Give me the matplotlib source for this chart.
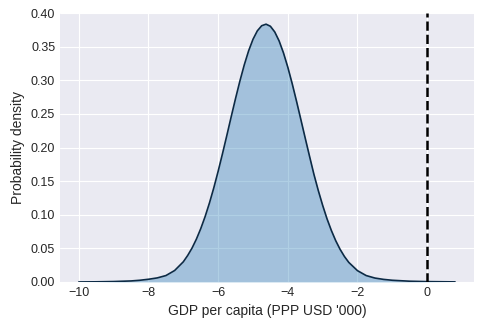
import numpy as np
import matplotlib
matplotlib.use("Agg")
import matplotlib.pyplot as plt

# density curve
gdp = [-10.0, -9.5, -9.0, -8.5, -8.25, -8.0, -7.75, -7.5, -7.25, -7.0,
       -6.875, -6.75, -6.625, -6.5, -6.375, -6.25, -6.125, -6.0, -5.875,
       -5.75, -5.625, -5.5, -5.375, -5.25, -5.125, -5.0, -4.875, -4.75,
       -4.625, -4.5, -4.375, -4.25, -4.125, -4.0, -3.875, -3.75, -3.625,
       -3.5, -3.375, -3.25, -3.125, -3.0, -2.875, -2.75, -2.625, -2.5,
       -2.375, -2.25, -2.0, -1.75, -1.5, -1.25, -1.0, -0.5, 0.0, 0.8]
density = [0.0000, 0.0002, 0.0006, 0.0015, 0.0025, 0.0040, 0.0060, 0.0095,
           0.0170, 0.0300, 0.0394, 0.0504, 0.0637, 0.0793, 0.0972, 0.1175,
           0.1401, 0.1648, 0.1910, 0.2182, 0.2460, 0.2732, 0.2992, 0.3231,
           0.3440, 0.3611, 0.3737, 0.3813, 0.3836, 0.3805, 0.3720, 0.3587,
           0.3409, 0.3195, 0.2952, 0.2689, 0.2415, 0.2139, 0.1867, 0.1600,
           0.1360, 0.1140, 0.0940, 0.0766, 0.0614, 0.0486, 0.0379, 0.0291,
           0.0168, 0.0095, 0.0058, 0.0038, 0.0025, 0.0011, 0.0005, 0.0001]
threshold = 0.0

plt.style.use("seaborn-v0_8-darkgrid")
plt.rcParams["font.family"] = ["Liberation Sans", "DejaVu Sans"]

fig = plt.figure(figsize=(4.84, 3.29), dpi=100)
ax = fig.add_axes([0.124, 0.143, 0.855, 0.817])

ax.fill_between(gdp, density, color="#1f77b4", alpha=0.35, lw=0)
ax.plot(gdp, density, color="#0c2a45", lw=1.2)
ax.axvline(threshold, color="black", ls="--", lw=1.8)

ax.set_ylim(0, 0.4)
ax.set_xticks([-10, -8, -6, -4, -2, 0])
ax.set_yticks(np.arange(0, 0.41, 0.05))
ax.yaxis.set_major_formatter(matplotlib.ticker.FormatStrFormatter("%.2f"))
ax.tick_params(labelsize=9, colors="#262626")
ax.set_xlabel("GDP per capita (PPP USD '000)", fontsize=10, color="#262626")
ax.set_ylabel("Probability density", fontsize=10, color="#262626")

fig.savefig("out.png", dpi=100)
